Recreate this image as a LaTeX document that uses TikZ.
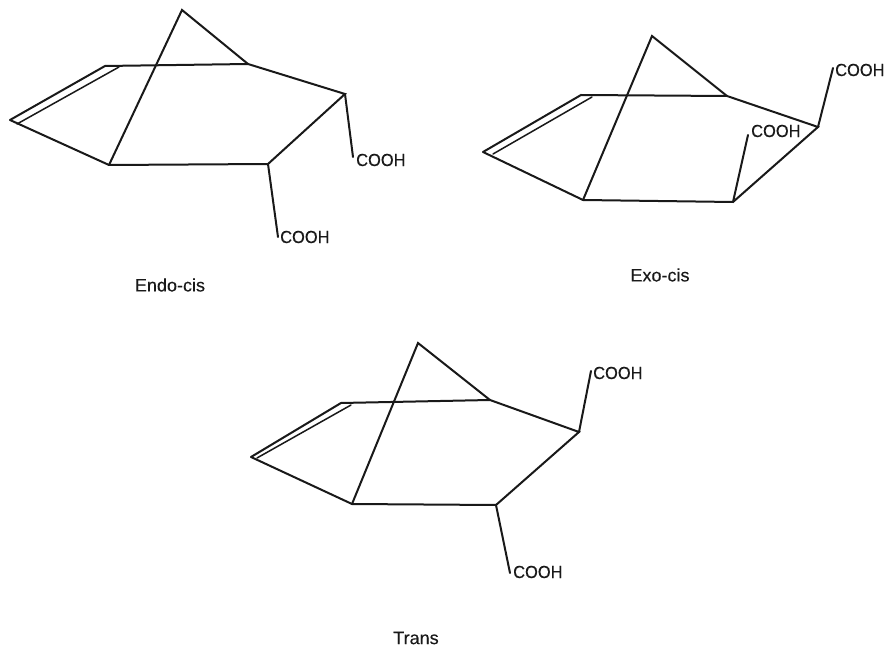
\documentclass[tikz,border=0pt]{standalone}
\usepackage{fontspec}
\setmainfont{Liberation Sans}
\newfontfamily\chemfont[FakeBold=0.25]{Liberation Sans}
\newcommand{\acidtext}{\scalebox{.94}[1]{COOH}}
\tikzset{
  bond/.style={line width=2pt,line join=miter,line cap=round,black!90},
  thinbond/.style={line width=1.5pt,line cap=round,black!90},
  acid/.style={inner sep=0pt,anchor=west,font=\chemfont\fontsize{17.5}{19}\selectfont,text=black!90},
  caption/.style={inner sep=0pt,font=\chemfont\fontsize{18}{21}\selectfont,text=black!90}
}
\begin{document}
\begin{tikzpicture}[x=1pt,y=-1pt]
\useasboundingbox (0,0) rectangle (884,647);
% Endo-cis
\coordinate (at) at (182,10);
\coordinate (ar) at (248,64);
\coordinate (ab) at (345,94);
\coordinate (ac) at (268,164);
\coordinate (ad) at (109,165);
\coordinate (ae) at (10,120);
\coordinate (af) at (105,66);
\coordinate (ag) at (119,67);
\coordinate (ah) at (17,124);
\coordinate (ai) at (353,157);
\coordinate (aj) at (278,237);
\node[acid] (a1) at (356,160) {\acidtext};
\node[acid] (a2) at (280,237) {\acidtext};
\node[caption] (a3) at (170,285) {Endo-cis};
\draw[bond] (ad) -- (at) -- (ar);
\draw[bond] (ae) -- (af) -- (ar) -- (ab) -- (ac) -- (ad) -- (ae);
\draw[thinbond] (ah) -- (ag);
\draw[bond] (ab) -- (ai);
\draw[bond] (ac) -- (aj);
% Exo-cis
\coordinate (bt) at (652,36);
\coordinate (br) at (727,96);
\coordinate (bb) at (818,127);
\coordinate (bc) at (733,202);
\coordinate (bd) at (583,200);
\coordinate (be) at (483,152);
\coordinate (bf) at (581,95);
\coordinate (bg) at (592,97);
\coordinate (bh) at (493,154);
\coordinate (bi) at (833,68);
\coordinate (bj) at (748,135);
\node[acid] (b1) at (835,70) {\acidtext};
\node[acid] (b2) at (751,131) {\acidtext};
\node[caption] (b3) at (660,275) {Exo-cis};
\draw[bond] (bd) -- (bt) -- (br);
\draw[bond] (be) -- (bf) -- (br) -- (bb) -- (bc) -- (bd) -- (be);
\draw[thinbond] (bh) -- (bg);
\draw[bond] (bb) -- (bi);
\draw[bond] (bc) -- (bj);
% Trans
\coordinate (ct) at (418,343);
\coordinate (cr) at (490,400);
\coordinate (cb) at (579,432);
\coordinate (cc) at (496,505);
\coordinate (cd) at (352,504);
\coordinate (ce) at (251,457);
\coordinate (cf) at (341,403);
\coordinate (cg) at (351,405);
\coordinate (ch) at (257,458);
\coordinate (ci) at (591,371);
\coordinate (cj) at (510,573);
\node[acid] (c1) at (593,373) {\acidtext};
\node[acid] (c2) at (513,572) {\acidtext};
\node[caption] (c3) at (416,638) {Trans};
\draw[bond] (cd) -- (ct) -- (cr);
\draw[bond] (ce) -- (cf) -- (cr) -- (cb) -- (cc) -- (cd) -- (ce);
\draw[thinbond] (ch) -- (cg);
\draw[bond] (cb) -- (ci);
\draw[bond] (cc) -- (cj);
\end{tikzpicture}
\end{document}
